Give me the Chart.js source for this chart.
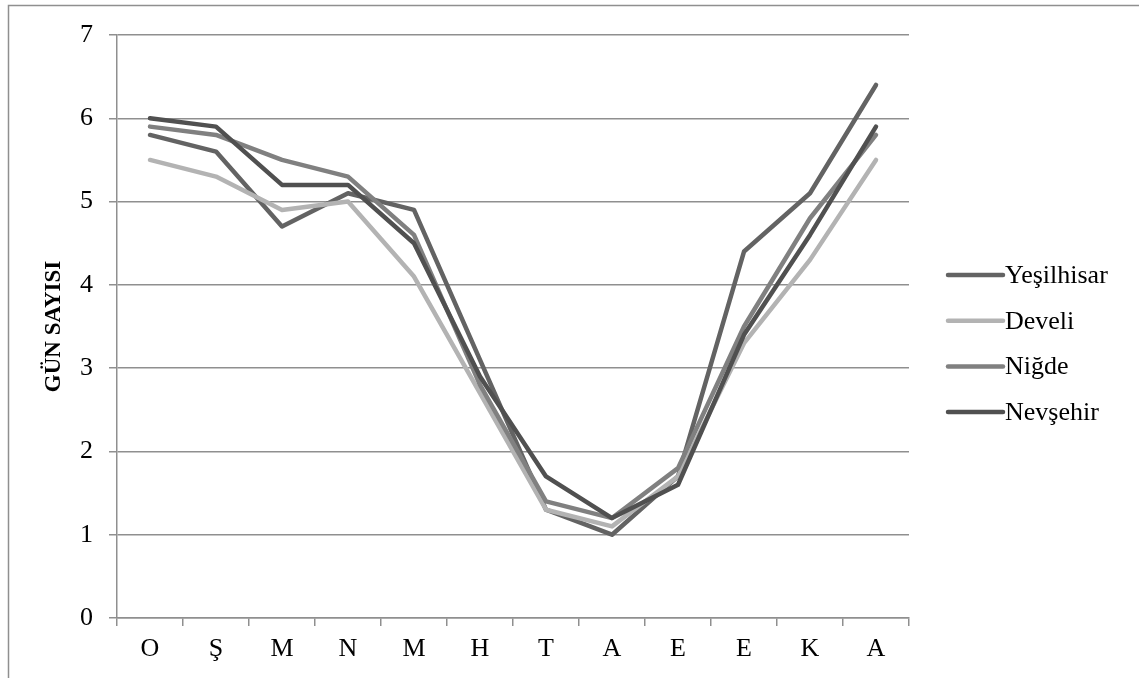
<!DOCTYPE html>
<html>
<head>
<meta charset="utf-8">
<script src="https://cdn.jsdelivr.net/npm/chart.js@4.4.1/dist/chart.umd.min.js"></script>
<style>
  html, body { margin: 0; padding: 0; background: #fff; }
  #wrap { width: 1139px; height: 678px; position: relative; }
</style>
</head>
<body>
<div id="wrap"><canvas id="c" width="1139" height="678"></canvas></div>
<script>
// Aylar (kategori etiketleri)
const months = ['O', 'Ş', 'M', 'N', 'M', 'H', 'T', 'A', 'E', 'E', 'K', 'A'];

// İstasyon serileri
const yesilhisar = [5.8, 5.6, 4.7, 5.1, 4.9, 3.1, 1.3, 1.0, 1.7, 4.4, 5.1, 6.4];
const develi     = [5.5, 5.3, 4.9, 5.0, 4.1, 2.7, 1.3, 1.1, 1.7, 3.3, 4.3, 5.5];
const nigde      = [5.9, 5.8, 5.5, 5.3, 4.6, 2.8, 1.4, 1.2, 1.8, 3.5, 4.8, 5.8];
const nevsehir   = [6.0, 5.9, 5.2, 5.2, 4.5, 2.9, 1.7, 1.2, 1.6, 3.4, 4.6, 5.9];

const seriesNames = ['Yeşilhisar', 'Develi', 'Niğde', 'Nevşehir'];
const yTicks = [0, 1, 2, 3, 4, 5, 6, 7];
const yTitle = 'GÜN SAYISI';

const FONT = "'Liberation Serif', 'Times New Roman', serif";
const GRID = '#8f8f8f';

function line(label, data, color, order) {
  return {
    label, data,
    borderColor: color,
    backgroundColor: color,
    borderWidth: 4.5,
    borderCapStyle: 'round',
    borderJoinStyle: 'round',
    pointRadius: 0,
    tension: 0,
    fill: false,
    order
  };
}

// Çerçeve ve sağdaki açıklama kutusu
const framePlugin = {
  id: 'frame',
  afterDraw(chart) {
    const ctx = chart.ctx;
    ctx.save();
    ctx.strokeStyle = GRID;
    ctx.lineWidth = 1.5;
    ctx.beginPath();
    ctx.moveTo(8.5, 678);
    ctx.lineTo(8.5, 5.5);
    ctx.lineTo(1139, 5.5);
    ctx.stroke();

    // açıklama
    const ca = chart.chartArea;
    const x0 = ca.right + 39;
    const w = 55;
    const y0 = 275;
    const step = 45.7;
    ctx.font = '26px ' + FONT;
    ctx.textBaseline = 'middle';
    ctx.textAlign = 'left';
    chart.data.datasets.forEach((ds, i) => {
      const y = y0 + i * step;
      ctx.strokeStyle = ds.borderColor;
      ctx.lineWidth = 4.5;
      ctx.lineCap = 'round';
      ctx.beginPath();
      ctx.moveTo(x0, y);
      ctx.lineTo(x0 + w, y);
      ctx.stroke();
      ctx.fillStyle = '#000';
      ctx.fillText(ds.label, x0 + w + 2, y + 1);
    });
    ctx.restore();
  }
};

new Chart(document.getElementById('c'), {
  type: 'line',
  data: {
    labels: months,
    datasets: [
      line(seriesNames[0], yesilhisar, '#636363', 4),
      line(seriesNames[1], develi, '#b3b3b3', 3),
      line(seriesNames[2], nigde, '#808080', 2),
      line(seriesNames[3], nevsehir, '#505050', 1)
    ]
  },
  options: {
    responsive: false,
    animation: false,
    devicePixelRatio: 1,
    layout: { padding: { left: 30, right: 230, top: 35, bottom: 0 } },
    plugins: {
      legend: { display: false },
      tooltip: { enabled: false }
    },
    scales: {
      x: {
        type: 'category',
        offset: true,
        grid: {
          offset: true,
          drawOnChartArea: false,
          drawTicks: true,
          tickLength: 8,
          color: GRID,
          lineWidth: 1.5
        },
        border: { color: GRID, width: 1.5 },
        ticks: {
          color: '#000',
          font: { family: FONT, size: 26 },
          padding: 8,
          maxRotation: 0,
          autoSkip: false
        },
        afterFit(scale) { scale.height = 60; }
      },
      y: {
        min: 0,
        max: 7,
        afterBuildTicks(scale) { scale.ticks = yTicks.map(v => ({ value: v })); },
        grid: {
          color: GRID,
          lineWidth: 1.5,
          tickLength: 8,
          drawTicks: true
        },
        border: { color: GRID, width: 1.5 },
        ticks: {
          color: '#000',
          font: { family: FONT, size: 26 },
          padding: 16
        },
        title: {
          display: true,
          text: yTitle,
          color: '#000',
          font: { family: FONT, size: 23, weight: 'bold' },
          padding: { top: 10, bottom: 0 }
        },
        afterFit(scale) { scale.width = 87; }
      }
    }
  },
  plugins: [framePlugin]
});
</script>
</body>
</html>
